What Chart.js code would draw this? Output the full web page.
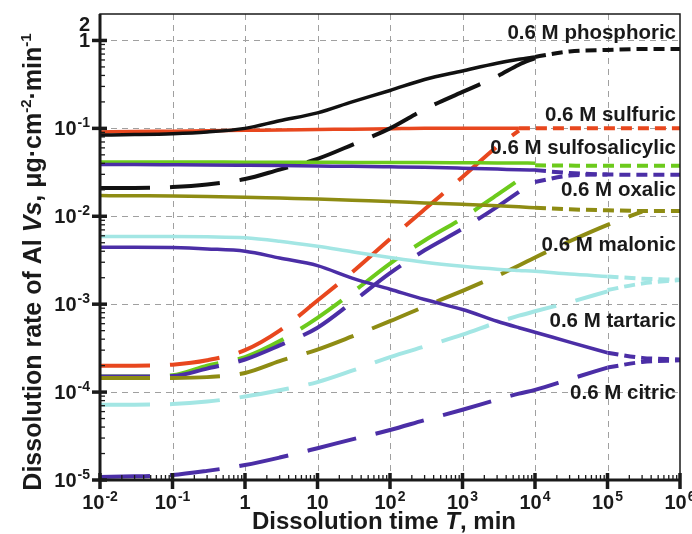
<!DOCTYPE html>
<html>
<head>
<meta charset="utf-8">
<script src="https://cdn.jsdelivr.net/npm/chart.js@4/dist/chart.umd.min.js"></script>
<style>
    html, body { margin: 0; padding: 0; background: #fff; }
    canvas { display: block; }
</style>
</head>
<body>
<canvas id="rateChart" width="692" height="534"></canvas>
<script>
const n = null

// dissolution time, min
const timeGrid = [1e-2, 3e-2, 1e-1, 3e-1, 1, 3, 10, 30, 1e2, 3e2, 1e3, 3e3, 6e3, 1e4, 3e4, 1e5, 3e5, 1e6]

// dissolution rate, ug cm-2 min-1 (solid = steady, long dash = transient, short dash = tail)
const phosphoricSteady = [0.084, 0.085, 0.087, 0.091, 0.1, 0.122, 0.15, 0.2, 0.27, 0.36, 0.45, 0.55, 0.61, 0.65, n, n, n, n]
const phosphoricTransient = [0.021, 0.021, 0.0215, 0.023, 0.0265, 0.034, 0.045, 0.065, 0.1, 0.165, 0.26, 0.39, 0.53, 0.63, n, n, n, n]
const phosphoricTail = [n, n, n, n, n, n, n, n, n, n, n, n, n, 0.65, 0.75, 0.78, 0.8, 0.8]

const sulfuricSteady = [0.091, 0.092, 0.093, 0.094, 0.095, 0.096, 0.097, 0.098, 0.099, 0.1, 0.1, 0.1, 0.1, n, n, n, n, n]
const sulfuricTransient = [2.0e-4, 2.0e-4, 2.05e-4, 2.3e-4, 3.0e-4, 5.0e-4, 1.1e-3, 2.3e-3, 5.5e-3, 0.012, 0.028, 0.062, 0.094, n, n, n, n, n]
const sulfuricTail = [n, n, n, n, n, n, n, n, n, n, n, n, 0.1, 0.1, 0.1, 0.1, 0.1, 0.1]

const sulfosalicylicSteady = [0.0415, 0.0415, 0.0415, 0.0414, 0.0413, 0.0412, 0.0411, 0.041, 0.0409, 0.0408, 0.0406, 0.0404, 0.0403, 0.0402, n, n, n, n]
const sulfosalicylicTransient = [1.5e-4, 1.5e-4, 1.55e-4, 2.0e-4, 2.5e-4, 3.8e-4, 7.0e-4, 1.35e-3, 2.9e-3, 5.3e-3, 9.5e-3, 0.0175, 0.026, n, n, n, n, n]
const sulfosalicylicTail = [n, n, n, n, n, n, n, n, n, n, n, n, n, 0.038, 0.0377, 0.0375, 0.0375, 0.0375]

const oxalicSteady = [0.0388, 0.0387, 0.0385, 0.0383, 0.038, 0.0377, 0.0373, 0.037, 0.0365, 0.036, 0.0352, 0.0344, 0.0338, 0.0335, n, n, n, n]
const oxalicTransient = [1.5e-4, 1.5e-4, 1.52e-4, 1.85e-4, 2.35e-4, 3.4e-4, 5.4e-4, 1.05e-3, 2.25e-3, 4.1e-3, 7.2e-3, 0.0128, 0.019, n, n, n, n, n]
const oxalicTail = [n, n, n, n, n, n, n, n, n, n, n, n, n, 0.0245, 0.029, 0.0298, 0.0297, 0.0297]
const oxalicTail2 = [n, n, n, n, n, n, n, n, n, n, n, n, n, 0.0335, 0.031, 0.0298, n, n]

const malonicSteady = [0.0172, 0.0171, 0.017, 0.0168, 0.0165, 0.0161, 0.0157, 0.0152, 0.0147, 0.0142, 0.0137, 0.0132, 0.0128, 0.0125, n, n, n, n]
const malonicTransient = [1.45e-4, 1.45e-4, 1.45e-4, 1.48e-4, 1.65e-4, 2.25e-4, 3.05e-4, 4.3e-4, 6.4e-4, 9.4e-4, 1.42e-3, 2.1e-3, 2.75e-3, 3.4e-3, 5.2e-3, 8.0e-3, 0.0113, n]
const malonicTail = [n, n, n, n, n, n, n, n, n, n, n, n, n, 0.0125, 0.012, 0.0117, 0.0115, 0.0115]

const tartaricSteady = [5.9e-3, 5.9e-3, 5.9e-3, 5.85e-3, 5.7e-3, 5.2e-3, 4.55e-3, 3.95e-3, 3.4e-3, 3.0e-3, 2.7e-3, 2.5e-3, 2.42e-3, 2.37e-3, 2.2e-3, 2.07e-3, n, n]
const tartaricTransient = [7.2e-5, 7.2e-5, 7.3e-5, 7.8e-5, 8.9e-5, 1.05e-4, 1.3e-4, 1.75e-4, 2.5e-4, 3.3e-4, 4.5e-4, 6.2e-4, 7.4e-4, 8.3e-4, 1.05e-3, 1.4e-3, n, n]
const tartaricTail = [n, n, n, n, n, n, n, n, n, n, n, n, n, n, n, 2.07e-3, 1.95e-3, 1.9e-3]
const tartaricTail2 = [n, n, n, n, n, n, n, n, n, n, n, n, n, n, n, 1.45e-3, 1.72e-3, 1.88e-3]

const citricSteady = [4.45e-3, 4.45e-3, 4.4e-3, 4.25e-3, 4.0e-3, 3.35e-3, 2.75e-3, 1.98e-3, 1.48e-3, 1.13e-3, 8.7e-4, 6.4e-4, 5.4e-4, 4.8e-4, 3.7e-4, 2.8e-4, n, n]
const citricTransient = [1.08e-5, 1.1e-5, 1.14e-5, 1.27e-5, 1.48e-5, 1.8e-5, 2.3e-5, 2.9e-5, 3.7e-5, 4.8e-5, 6.3e-5, 8.2e-5, 9.6e-5, 1.06e-4, 1.4e-4, 1.9e-4, n, n]
const citricTail = [n, n, n, n, n, n, n, n, n, n, n, n, n, n, n, 2.8e-4, 2.45e-4, 2.35e-4]
const citricTail2 = [n, n, n, n, n, n, n, n, n, n, n, n, n, n, n, 1.9e-4, 2.2e-4, 2.3e-4]

// curve labels and the rate level they sit at
const seriesNames = ['0.6 M phosphoric', '0.6 M sulfuric', '0.6 M sulfosalicylic', '0.6 M oxalic', '0.6 M malonic', '0.6 M tartaric', '0.6 M citric']
const labelLevels = [1.2, 0.139, 0.06, 0.0199, 4.7e-3, 6.4e-4, 9.8e-5]

// axis ticks
const xTicks = [1e-2, 1e-1, 1, 10, 1e2, 1e3, 1e4, 1e5, 1e6]
const xTickBase = ['10', '10', '1', '10', '10', '10', '10', '10', '10']
const xTickExp = ['-2', '-1', '', '', '2', '3', '4', '5', '6']
const yTicks = [1e-5, 1e-4, 1e-3, 1e-2, 1e-1, 1]
const yTickBase = ['10', '10', '10', '10', '10', '1']
const yTickExp = ['-5', '-4', '-3', '-2', '-1', '']

const FONT = '"Liberation Sans", Arial, sans-serif'

const init = () => {
    const ctx = document.getElementById('rateChart')

    const line = (values, color, kind, offset = 0) => ({
        data: timeGrid.map((t, i) => ({x: t, y: values[i]})),
        borderColor: color,
        borderWidth: kind === 'solid' ? 3.5 : 4,
        borderDash: kind === 'long' ? [50, 20] : kind === 'short' ? [11, 6] : [],
        borderDashOffset: offset,
        borderCapStyle: 'butt',
        pointRadius: 0,
        fill: false,
        spanGaps: false,
        cubicInterpolationMode: 'monotone',
    })

    const black = '#111111'
    const red = '#e8471e'
    const green = '#6cca1c'
    const indigo = '#4b2ea6'
    const olive = '#8e8c13'
    const cyan = '#a3e6e4'

    const datasets = [
        line(citricTransient, indigo, 'long'),
        line(citricSteady, indigo, 'solid'),
        line(citricTail, indigo, 'short'),
        line(citricTail2, indigo, 'short'),
        line(tartaricTransient, cyan, 'long'),
        line(tartaricSteady, cyan, 'solid'),
        line(tartaricTail, cyan, 'short'),
        line(tartaricTail2, cyan, 'short'),
        line(malonicTransient, olive, 'long'),
        line(malonicSteady, olive, 'solid'),
        line(malonicTail, olive, 'short'),
        line(oxalicTransient, indigo, 'long'),
        line(oxalicSteady, indigo, 'solid'),
        line(oxalicTail, indigo, 'short'),
        line(oxalicTail2, indigo, 'short'),
        line(sulfosalicylicTransient, green, 'long'),
        line(sulfosalicylicSteady, green, 'solid'),
        line(sulfosalicylicTail, green, 'short'),
        line(phosphoricTransient, black, 'long'),
        line(phosphoricSteady, black, 'solid'),
        line(phosphoricTail, black, 'short'),
        line(sulfuricTransient, red, 'long'),
        line(sulfuricSteady, red, 'solid'),
        line(sulfuricTail, red, 'short'),
    ]

    // 10 with a raised exponent
    const drawPow = (c, base, exp, x, y, align) => {
        c.font = `bold 20px ${FONT}`
        const wb = c.measureText(base).width
        c.font = `bold 14px ${FONT}`
        const we = exp ? c.measureText(exp).width + 1 : 0
        const w = wb + we
        let x0 = align === 'right' ? x - w : align === 'center' ? x - w / 2 : x
        c.textAlign = 'left'
        c.textBaseline = 'alphabetic'
        c.font = `bold 20px ${FONT}`
        c.fillText(base, x0, y)
        if (exp) {
            c.font = `bold 14px ${FONT}`
            c.fillText(exp, x0 + wb + 1, y - 8)
        }
    }

    const decor = {
        id: 'decor',
        beforeDatasetsDraw(chart) {
            const {ctx: c, chartArea: {left, right, top, bottom}, scales: {x, y}} = chart
            c.save()
            c.strokeStyle = '#a0a0a0'
            c.lineWidth = 1
            c.setLineDash([6, 5])
            xTicks.slice(1, -1).forEach(v => {
                const px = Math.round(x.getPixelForValue(v)) + 0.5
                c.beginPath()
                c.moveTo(px, top)
                c.lineTo(px, bottom)
                c.stroke()
            })
            yTicks.slice(1).forEach(v => {
                const py = Math.round(y.getPixelForValue(v)) + 0.5
                c.beginPath()
                c.moveTo(left, py)
                c.lineTo(right, py)
                c.stroke()
            })
            c.restore()
        },
        afterDatasetsDraw(chart) {
            const {ctx: c, chartArea: {left, right, top, bottom}, scales: {x, y}} = chart
            c.save()
            c.setLineDash([])
            c.strokeStyle = '#1a1a1a'

            // frame
            c.lineWidth = 1.5
            c.strokeRect(left, top, right - left, bottom - top)
            c.lineWidth = 3
            c.beginPath()
            c.moveTo(left, top)
            c.lineTo(left, bottom)
            c.lineTo(right, bottom)
            c.stroke()

            // minor ticks
            c.lineWidth = 1.3
            for (let d = -2; d < 6; d++) {
                for (let k = 2; k <= 9; k++) {
                    const px = x.getPixelForValue(k * Math.pow(10, d))
                    c.beginPath()
                    c.moveTo(px, bottom)
                    c.lineTo(px, bottom - 5)
                    c.stroke()
                }
            }
            for (let d = -5; d < 0; d++) {
                for (let k = 2; k <= 9; k++) {
                    const py = y.getPixelForValue(k * Math.pow(10, d))
                    c.beginPath()
                    c.moveTo(left, py)
                    c.lineTo(left + 5, py)
                    c.stroke()
                }
            }

            // major ticks
            c.lineWidth = 3.5
            xTicks.forEach(v => {
                const px = x.getPixelForValue(v)
                c.beginPath()
                c.moveTo(px, bottom - 7)
                c.lineTo(px, bottom + 9)
                c.stroke()
            })
            yTicks.forEach(v => {
                const py = y.getPixelForValue(v)
                c.beginPath()
                c.moveTo(left - 8, py)
                c.lineTo(left + 7, py)
                c.stroke()
            })

            // tick labels
            c.fillStyle = '#1a1a1a'
            xTicks.forEach((v, i) => {
                drawPow(c, xTickBase[i], xTickExp[i], x.getPixelForValue(v), bottom + 29, 'center')
            })
            yTicks.forEach((v, i) => {
                drawPow(c, yTickBase[i], yTickExp[i], left - 10, y.getPixelForValue(v) + 7, 'right')
            })
            drawPow(c, '2', '', left - 10, y.getPixelForValue(2) + 17, 'right')

            // curve labels
            c.font = `bold 20.5px ${FONT}`
            c.textAlign = 'right'
            c.textBaseline = 'middle'
            seriesNames.forEach((name, i) => {
                c.fillText(name, right - 4, y.getPixelForValue(labelLevels[i]))
            })

            // x title
            const xt = [['Dissolution time ', 'normal'], ['T', 'italic'], [', min', 'normal']]
            c.textBaseline = 'alphabetic'
            c.textAlign = 'left'
            let w = 0
            xt.forEach(([s, st]) => { c.font = `${st} bold 24px ${FONT}`; w += c.measureText(s).width })
            let cx = (left + right) / 2 - w / 2 - 6
            xt.forEach(([s, st]) => {
                c.font = `${st} bold 24px ${FONT}`
                c.fillText(s, cx, 529)
                cx += c.measureText(s).width
            })

            // y title, rotated
            const yt = [['Dissolution rate of Al ', 'normal', 0], ['Vs', 'italic', 0], [', \u03bcg\u00b7cm', 'normal', 0], ['-2', 'normal', 1], ['\u00b7min', 'normal', 0], ['-1', 'normal', 1]]
            const size = sup => sup ? 15 : 25
            w = 0
            yt.forEach(([s, st, sup]) => { c.font = `${st} bold ${size(sup)}px ${FONT}`; w += c.measureText(s).width })
            c.translate(41, 262)
            c.rotate(-Math.PI / 2)
            cx = -w / 2
            yt.forEach(([s, st, sup]) => {
                c.font = `${st} bold ${size(sup)}px ${FONT}`
                c.fillText(s, cx, sup ? -10 : 0)
                cx += c.measureText(s).width
            })
            c.restore()
        }
    }

    new Chart(ctx, {
        type: 'line',
        data: {datasets},
        options: {
            responsive: false,
            animation: false,
            devicePixelRatio: 1,
            layout: {padding: {left: 100, right: 12, top: 14, bottom: 54}},
            plugins: {legend: {display: false}, tooltip: {enabled: false}},
            scales: {
                x: {type: 'logarithmic', min: 1e-2, max: 1e6, display: false},
                y: {type: 'logarithmic', min: 1e-5, max: 2, display: false},
            }
        },
        plugins: [decor]
    })
}

document.addEventListener('DOMContentLoaded', init)
</script>
</body>
</html>
